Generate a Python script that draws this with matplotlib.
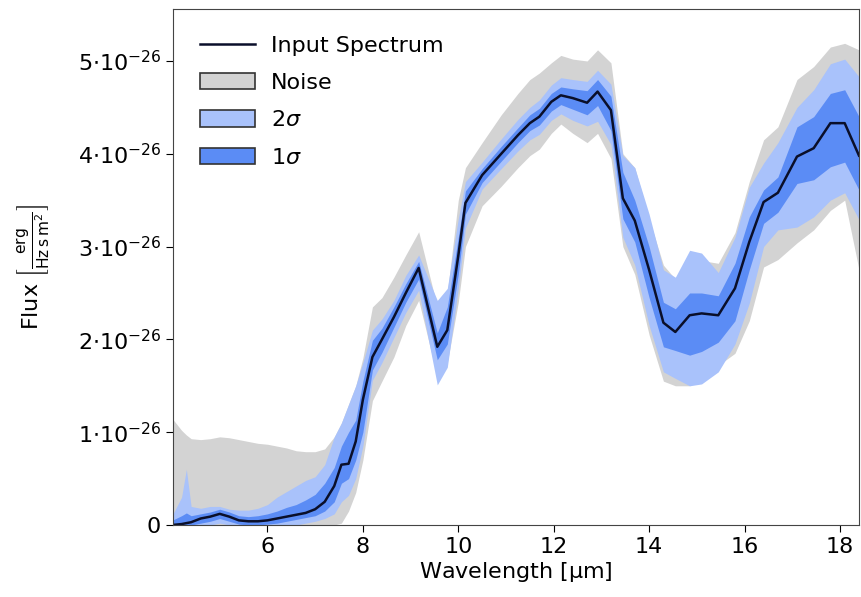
import numpy as np
import matplotlib
matplotlib.use('Agg')
import matplotlib.pyplot as plt
from matplotlib.ticker import FuncFormatter

# wavelength grid [um] and flux values in units of 1e-26 erg/(Hz s m^2)
wavelength = [4.0, 4.2, 4.3, 4.4, 4.6, 4.8, 5.0, 5.2, 5.4, 5.6, 5.8, 6.0, 6.2, 6.4, 6.6, 6.8,
              7.0, 7.2, 7.4, 7.55, 7.7, 7.85, 8.0, 8.2, 8.4, 8.65, 8.9, 9.17, 9.56, 9.77,
              10.0, 10.15, 10.5, 10.9, 11.25, 11.5, 11.7, 11.95, 12.15, 12.4, 12.7, 12.92,
              13.2, 13.45, 13.7, 14.0, 14.3, 14.55, 14.85, 15.1, 15.45, 15.8, 16.1, 16.4,
              16.7, 17.1, 17.45, 17.8, 18.1, 18.4]
spectrum = [0.0, 0.01, 0.02, 0.03, 0.07, 0.09, 0.12, 0.09, 0.05, 0.04, 0.04, 0.05, 0.07, 0.09, 0.11, 0.13,
            0.17, 0.25, 0.42, 0.65, 0.66, 0.9, 1.35, 1.81, 2.0, 2.24, 2.5, 2.77, 1.92, 2.1,
            2.9, 3.47, 3.77, 4.0, 4.2, 4.33, 4.4, 4.56, 4.63, 4.6, 4.55, 4.67,
            4.47, 3.52, 3.28, 2.75, 2.18, 2.08, 2.26, 2.28, 2.26, 2.55, 3.05, 3.48,
            3.58, 3.97, 4.06, 4.33, 4.33, 3.98]
sig1_lo = [0.0, 0.0, 0.0, 0.0, 0.02, 0.04, 0.07, 0.04, 0.01, 0.0, 0.0, 0.01, 0.02, 0.04, 0.06, 0.08,
           0.1, 0.15, 0.25, 0.45, 0.5, 0.7, 1.0, 1.67, 1.86, 2.13, 2.4, 2.65, 1.78, 1.95,
           2.7, 3.35, 3.69, 3.92, 4.12, 4.25, 4.31, 4.46, 4.53, 4.48, 4.42, 4.52,
           4.25, 3.3, 3.05, 2.45, 1.92, 1.88, 1.83, 1.87, 1.97, 2.2, 2.75, 3.25,
           3.37, 3.68, 3.72, 3.86, 3.91, 3.61]
sig1_hi = [0.05, 0.1, 0.13, 0.1, 0.12, 0.14, 0.17, 0.14, 0.1, 0.09, 0.1, 0.12, 0.15, 0.19, 0.22, 0.27,
           0.33, 0.45, 0.62, 0.85, 1.0, 1.13, 1.55, 1.99, 2.12, 2.35, 2.6, 2.84, 2.07, 2.35,
           3.1, 3.6, 3.84, 4.08, 4.28, 4.42, 4.49, 4.65, 4.72, 4.7, 4.68, 4.8,
           4.62, 3.8, 3.5, 3.0, 2.4, 2.33, 2.5, 2.5, 2.47, 2.82, 3.32, 3.61,
           3.75, 4.29, 4.4, 4.65, 4.69, 4.4]
sig2_lo = [0.0, 0.0, 0.0, 0.0, 0.0, 0.0, 0.02, 0.0, 0.0, 0.0, 0.0, 0.0, 0.0, 0.0, 0.0, 0.02,
           0.04, 0.07, 0.12, 0.25, 0.32, 0.5, 0.85, 1.56, 1.75, 2.02, 2.29, 2.53, 1.51, 1.7,
           2.55, 3.2, 3.62, 3.84, 4.03, 4.15, 4.21, 4.36, 4.43, 4.36, 4.3, 4.35,
           4.1, 3.1, 2.8, 2.15, 1.65, 1.58, 1.5, 1.52, 1.65, 1.95, 2.39, 3.0,
           3.18, 3.21, 3.32, 3.5, 3.58, 3.29]
sig2_hi = [0.1, 0.3, 0.6, 0.2, 0.18, 0.2, 0.2, 0.17, 0.16, 0.16, 0.18, 0.22, 0.3, 0.36, 0.42, 0.48,
           0.52, 0.65, 0.95, 1.1, 1.3, 1.5, 1.75, 2.1, 2.22, 2.42, 2.69, 2.91, 2.42, 2.55,
           3.3, 3.7, 3.91, 4.16, 4.37, 4.5, 4.58, 4.74, 4.82, 4.8, 4.78, 4.9,
           4.75, 3.98, 3.85, 3.35, 2.75, 2.67, 2.96, 2.93, 2.72, 3.1, 3.64, 3.9,
           4.12, 4.5, 4.69, 4.97, 5.02, 4.83]
noise_lo = [0.0, 0.0, 0.0, 0.0, 0.0, 0.0, 0.0, 0.0, 0.0, 0.0, 0.0, 0.0, 0.0, 0.0, 0.0, 0.0,
            0.0, 0.0, 0.0, 0.02, 0.15, 0.35, 0.7, 1.34, 1.55, 1.81, 2.15, 2.42, 1.6, 1.75,
            2.4, 3.0, 3.44, 3.65, 3.85, 3.98, 4.05, 4.22, 4.32, 4.22, 4.12, 4.22,
            3.95, 3.0, 2.7, 2.05, 1.55, 1.5, 1.5, 1.6, 1.72, 1.85, 2.2, 2.78,
            2.86, 3.04, 3.18, 3.39, 3.5, 2.75]
noise_hi = [1.15, 1.02, 0.97, 0.93, 0.92, 0.93, 0.95, 0.94, 0.92, 0.9, 0.88, 0.87, 0.85, 0.83, 0.8, 0.79,
            0.79, 0.82, 0.95, 1.1, 1.3, 1.5, 1.8, 2.35, 2.45, 2.67, 2.91, 3.16, 2.35, 2.5,
            3.5, 3.85, 4.12, 4.42, 4.65, 4.8, 4.87, 4.98, 5.06, 5.02, 5.0, 5.12,
            4.98, 4.0, 3.85, 3.3, 2.8, 2.65, 2.93, 2.85, 2.82, 3.15, 3.7, 4.15,
            4.29, 4.8, 4.94, 5.15, 5.19, 5.12]

UNIT = 1e-26


def flux(values):
    return np.array(values) * UNIT


def sci_fmt(val, pos):
    n = val / UNIT
    if abs(n) < 1e-9:
        return '0'
    return r'$%d{\cdot}10^{-26}$' % round(n)


fig = plt.figure(figsize=(8.61, 5.97), dpi=100)
ax = fig.add_axes([173 / 861, 72 / 597, 686 / 861, 516 / 597])

ax.fill_between(wavelength, flux(noise_lo), flux(noise_hi), color='#d3d3d3', lw=0, label='Noise')
ax.fill_between(wavelength, flux(sig2_lo), flux(sig2_hi), color='#a9c2fb', lw=0, label=r'2$\sigma$')
ax.fill_between(wavelength, flux(sig1_lo), flux(sig1_hi), color='#5b8cf5', lw=0, label=r'1$\sigma$')
ax.plot(wavelength, flux(spectrum), color='#0a0f2a', lw=1.8, label='Input Spectrum')

ax.set_xlim(4.02, 18.4)
ax.set_ylim(0, 5.56e-26)
ax.set_xticks([6, 8, 10, 12, 14, 16, 18])
ax.set_yticks(flux([0, 1, 2, 3, 4, 5]))
ax.yaxis.set_major_formatter(FuncFormatter(sci_fmt))
ax.tick_params(labelsize=16, length=5)
ax.set_xlabel(r'Wavelength [$\mathrm{\mu}$m]', fontsize=16, labelpad=2)
ax.set_ylabel(r'Flux $\left[\frac{\mathrm{erg}}{\mathrm{Hz\,s\,m^2}}\right]$', fontsize=16, labelpad=18)
for sp in ax.spines.values():
    sp.set_color('#444444')

# legend order: line first, then the bands
handles, labels = ax.get_legend_handles_labels()
order = [3, 0, 1, 2]
leg = ax.legend([handles[i] for i in order], [labels[i] for i in order], loc='upper left',
                frameon=False, fontsize=16, handlelength=2.5, handleheight=0.75,
                labelspacing=0.78, borderaxespad=0.8, handletextpad=0.7)
for patch in leg.get_patches():
    patch.set_edgecolor('#333333')
    patch.set_linewidth(1.2)

fig.savefig('out.png', dpi=100)
